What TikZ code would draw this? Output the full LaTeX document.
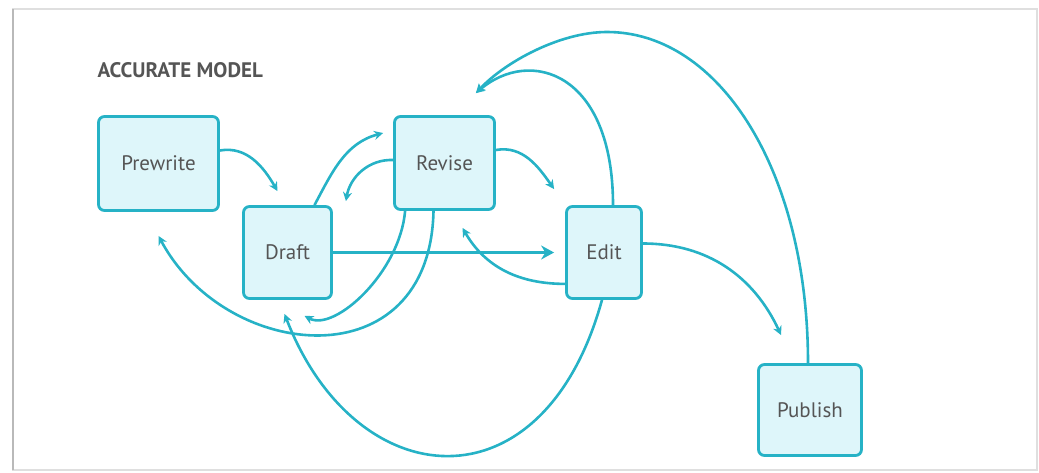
\documentclass[tikz,border=0pt]{standalone}
\usepackage{fontspec}
\setmainfont{PT Sans}
\usetikzlibrary{arrows.meta,calc}
\definecolor{flow}{RGB}{38,178,198}
\definecolor{flowfill}{RGB}{222,246,250}
\definecolor{labelgray}{RGB}{85,85,85}

\begin{document}
\begin{tikzpicture}[x=1pt,y=1pt,
    stage/.style={draw=flow, line width=2.8pt, fill=flowfill, rounded corners=6pt,
        font=\fontsize{21}{24}\selectfont, text=labelgray},
    link/.style={flow, line width=2.6pt, -{Stealth[length=9pt,width=9pt]}}]
    \useasboundingbox (0,0) rectangle (1039,472);

    % Frame of the slide
    \draw[gray!25, line width=1.5pt] (13,2) rectangle (1037,463);
    \draw[gray!55, line width=2.5pt] (13,2) -- (13,463);

    % Title
    \node[anchor=west, font=\bfseries\fontsize{21}{24}\selectfont, text=labelgray] (title) at (94,402) {ACCURATE MODEL};

    % Stages
    \node[stage, minimum width=120pt, minimum height=94pt] (prewrite) at (158.5,308.5) {Prewrite};
    \node[stage, minimum width=88pt, minimum height=92pt] (draft) at (287.5,219.5) {Draft};
    \node[stage, minimum width=100pt, minimum height=93pt] (revise) at (444.5,309) {Revise};
    \node[stage, minimum width=75pt, minimum height=92pt] (edit) at (604,219.5) {Edit};
    \node[stage, minimum width=103pt, minimum height=91pt] (publish) at (810,62) {Publish};

    % Forward steps
    \draw[link] ($(prewrite.east)+(0,13)$) to[out=10,in=120] ($(draft.north)+(-10,14)$);
    \draw[link] ($(draft.north)+(27,0)$) to[out=62,in=195] ($(revise.west)+(-10,30)$);
    \draw[link] ($(revise.east)+(0,13)$) to[out=10,in=125] ($(edit.north west)+(-11,16)$);
    \draw[link, -{Stealth[length=13pt,width=14pt]}] (draft.east) -- ($(edit.west)+(-11,0)$);
    \draw[link] ($(edit.east)+(0,9)$) to[out=0,in=115] ($(publish.north west)+(24,28)$);

    % Loops back
    \draw[link] ($(revise.west)+(0,3)$) to[out=178,in=80] ($(draft.north east)+(13,4)$);
    \draw[link] ($(edit.south west)+(0,16)$) to[out=180,in=-60] ($(revise.south)+(18,-17)$);
    \draw[link] ($(revise.south west)+(12,0)$) .. controls (400,200) and (335,140) .. ($(draft.south)+(17,-16)$);
    \draw[link] ($(revise.south)+(-11,0)$) .. controls (430,90) and (226,110) .. ($(prewrite.south)+(0,-24)$);
    \draw[link] ($(edit.south)+(-2,0)$) .. controls (543,-42) and (355,-24) .. ($(draft.south)+(-3,-14)$);
    \draw[link] ($(edit.north)+(9,0)$) .. controls (613,400) and (530,425) .. ($(revise.north east)+(-20,22)$);
    \draw[link] ($(publish.north)+(-2,0)$) .. controls (808,300) and (720,440) .. (607,440)
        .. controls (560,440) and (505,410) .. ($(revise.north east)+(-20,22)$);
\end{tikzpicture}
\end{document}
